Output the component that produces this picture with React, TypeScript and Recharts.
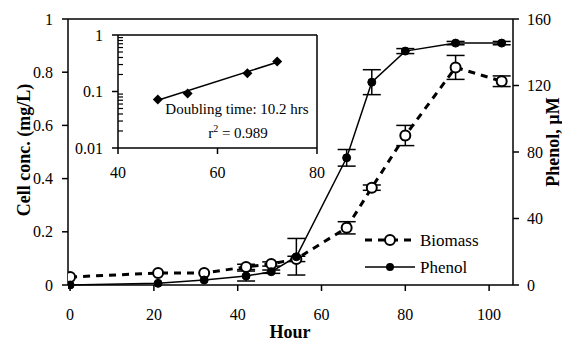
import React from "react";
import {
  ComposedChart,
  LineChart,
  Line,
  XAxis,
  YAxis,
  ErrorBar,
  ReferenceLine,
  Legend,
} from "recharts";

// Main chart data
const hours = [0, 21, 32, 42, 48, 54, 66, 72, 80, 92, 103];
const biomass = [0.03, 0.045, 0.045, 0.068, 0.079, 0.098, 0.215, 0.366, 0.562, 0.818, 0.766];
const biomassErr = [0, 0, 0, 0.01, 0.008, 0.01, 0.023, 0.01, 0.038, 0.045, 0.02];
const phenol = [0, 1, 3, 5.4, 8, 17, 76.5, 122, 140.7, 145.5, 145.5];
const phenolErr = [0, 0, 0, 3, 1, 11, 5, 7.5, 1.5, 1, 1];

const xTicks = [0, 20, 40, 60, 80, 100];
const leftTicks = [0, 0.2, 0.4, 0.6, 0.8, 1];
const rightTicks = [0, 40, 80, 120, 160];

// Inset data
const insetHours = [48, 54, 66, 72];
const insetCell = [0.072, 0.092, 0.21, 0.34];
const insetFit = [0.07, null, null, 0.33];
const insetXTicks = [40, 60, 80];
const insetYTicks = [0.01, 0.1, 1];
const insetMinorTicks = [
  0.02, 0.03, 0.04, 0.05, 0.06, 0.07, 0.08, 0.09,
  0.2, 0.3, 0.4, 0.5, 0.6, 0.7, 0.8, 0.9,
];
const insetAllTicks = [...insetYTicks, ...insetMinorTicks].sort((a, b) => a - b);

const data = hours.map((h, i) => ({
  hour: h,
  biomass: biomass[i],
  biomassErr: biomassErr[i],
  phenol: phenol[i],
  phenolErr: phenolErr[i],
}));

const insetData = insetHours.map((h, i) => ({
  hour: h,
  cell: insetCell[i],
  fit: insetFit[i],
}));

const FONT = "'Liberation Serif', 'Times New Roman', serif";
const tickStyle = { fill: "#000", fontSize: 16, fontFamily: FONT };
const axisLine = { stroke: "#000", strokeWidth: 1.5 };
const tickLine = { stroke: "#000", strokeWidth: 1.5 };

const OpenDot = (props: any) => {
  const { cx, cy, index } = props;
  if (cx == null || cy == null) return <g key={index} />;
  return <circle key={index} cx={cx} cy={cy} r={5} fill="#fff" stroke="#000" strokeWidth={2} />;
};
const FilledDot = (props: any) => {
  const { cx, cy, index } = props;
  if (cx == null || cy == null) return <g key={index} />;
  return <circle key={index} cx={cx} cy={cy} r={4} fill="#000" stroke="#000" strokeWidth={1} />;
};
const Diamond = (props: any) => {
  const { cx, cy, index } = props;
  if (cx == null || cy == null) return <g key={index} />;
  const s = 5;
  return (
    <polygon
      key={index}
      points={`${cx},${cy - s} ${cx + s},${cy} ${cx},${cy + s} ${cx - s},${cy}`}
      fill="#000"
    />
  );
};

const INSET_TICK_SIZE = 6;
const INSET_TICK_MARGIN = 9;
const InsetYTick = (props: any) => {
  const { x, y, payload } = props;
  const v = payload?.value;
  const ax = x + INSET_TICK_SIZE + INSET_TICK_MARGIN;
  const major = insetYTicks.some((t) => Math.abs(t - v) < 1e-9);
  return (
    <g>
      {major ? (
        <line x1={ax - INSET_TICK_SIZE} x2={ax} y1={y} y2={y} stroke="#000" strokeWidth={1.5} />
      ) : (
        <line x1={ax} x2={ax + 5} y1={y} y2={y} stroke="#000" strokeWidth={1.2} />
      )}
      {major && (
        <text
          x={x}
          y={y}
          textAnchor="end"
          dominantBaseline="central"
          fontFamily={FONT}
          fontSize={16}
          fill="#000"
        >
          {String(v)}
        </text>
      )}
    </g>
  );
};

const renderLegend = () => (
  <svg width={140} height={60} style={{ display: "block" }}>
    <line x1={5} y1={14} x2={55} y2={14} stroke="#000" strokeWidth={3} strokeDasharray="7 6" />
    <circle cx={30} cy={14} r={5} fill="#fff" stroke="#000" strokeWidth={2} />
    <text x={60} y={14} dominantBaseline="central" fontFamily={FONT} fontSize={17} fill="#000">
      Biomass
    </text>
    <line x1={5} y1={41} x2={55} y2={41} stroke="#000" strokeWidth={1.5} />
    <circle cx={30} cy={41} r={4} fill="#000" />
    <text x={60} y={41} dominantBaseline="central" fontFamily={FONT} fontSize={17} fill="#000">
      Phenol
    </text>
  </svg>
);

export default function App() {
  return (
    <div style={{ position: "absolute", left: 0, top: 0, width: 562, height: 341, background: "#fff" }}>
      <ComposedChart
        width={562}
        height={341}
        data={data}
        margin={{ top: 19, right: 0, bottom: 16, left: 8 }}
      >
        <XAxis
          dataKey="hour"
          type="number"
          domain={[-0.5, 105.7]}
          ticks={xTicks}
          height={40}
          tickSize={6}
          tickMargin={18}
          tick={tickStyle}
          axisLine={axisLine}
          tickLine={tickLine}
          allowDataOverflow
        />
        <YAxis
          yAxisId="left"
          domain={[0, 1]}
          ticks={leftTicks}
          width={60}
          tickSize={6}
          tickMargin={9}
          tick={tickStyle}
          axisLine={axisLine}
          tickLine={tickLine}
          tickFormatter={(v: number) => String(v)}
        />
        <YAxis
          yAxisId="right"
          orientation="right"
          domain={[0, 160]}
          ticks={rightTicks}
          width={49}
          tickSize={6}
          tickMargin={8}
          tick={tickStyle}
          axisLine={axisLine}
          tickLine={tickLine}
        />
        <ReferenceLine yAxisId="left" y={1} stroke="#000" strokeWidth={1.5} />
        <Line
          yAxisId="left"
          dataKey="biomass"
          stroke="#000"
          strokeWidth={3}
          strokeDasharray="7 6"
          dot={<OpenDot />}
          isAnimationActive={false}
        >
          <ErrorBar dataKey="biomassErr" width={9} stroke="#000" strokeWidth={1.5} direction="y" />
        </Line>
        <Line
          yAxisId="right"
          dataKey="phenol"
          stroke="#000"
          strokeWidth={1.5}
          dot={<FilledDot />}
          isAnimationActive={false}
        >
          <ErrorBar dataKey="phenolErr" width={9} stroke="#000" strokeWidth={1.5} direction="y" />
        </Line>
        <Legend
          layout="vertical"
          verticalAlign="middle"
          align="center"
          wrapperStyle={{ left: 360, top: 226, width: 140, height: 60 }}
          content={renderLegend}
        />
      </ComposedChart>

      <div style={{ position: "absolute", left: 60, top: 20 }}>
        <LineChart
          width={270}
          height={165}
          data={insetData}
          margin={{ top: 15, right: 13, bottom: 7, left: 8 }}
        >
          <XAxis
            dataKey="hour"
            type="number"
            domain={[40, 80]}
            ticks={insetXTicks}
            height={30}
            tickSize={6}
            tickMargin={13}
            tick={tickStyle}
            axisLine={axisLine}
            tickLine={tickLine}
          />
          <YAxis
            yAxisId="major"
            scale="log"
            domain={[0.01, 1]}
            ticks={insetAllTicks}
            interval={0}
            width={50}
            tickSize={INSET_TICK_SIZE}
            tickMargin={INSET_TICK_MARGIN}
            tick={<InsetYTick />}
            axisLine={axisLine}
            tickLine={false}
            allowDataOverflow
          />
          <ReferenceLine yAxisId="major" y={1} stroke="#000" strokeWidth={1.5} />
          <ReferenceLine yAxisId="major" x={80} stroke="#000" strokeWidth={1.5} />
          <Line
            yAxisId="major"
            dataKey="fit"
            stroke="#000"
            strokeWidth={1.5}
            dot={false}
            connectNulls
            isAnimationActive={false}
          />
          <Line
            yAxisId="major"
            dataKey="cell"
            stroke="none"
            dot={<Diamond />}
            isAnimationActive={false}
          />
        </LineChart>
      </div>

      <svg
        width={562}
        height={341}
        style={{ position: "absolute", left: 0, top: 0, pointerEvents: "none" }}
      >
        <text
          x={24}
          y={150}
          transform="rotate(-90 24 150)"
          textAnchor="middle"
          dominantBaseline="central"
          fontFamily={FONT}
          fontWeight="bold"
          fontSize={18}
          fill="#000"
        >
          Cell conc. (mg/L)
        </text>
        <text
          x={553}
          y={142}
          transform="rotate(-90 553 142)"
          textAnchor="middle"
          dominantBaseline="central"
          fontFamily={FONT}
          fontWeight="bold"
          fontSize={18}
          fill="#000"
        >
          Phenol, µM
        </text>
        <text
          x={290}
          y={332}
          textAnchor="middle"
          dominantBaseline="central"
          fontFamily={FONT}
          fontWeight="bold"
          fontSize={18}
          fill="#000"
        >
          Hour
        </text>
        <text x={237} y={114} textAnchor="middle" fontFamily={FONT} fontSize={15} fill="#000">
          Doubling time: 10.2 hrs
        </text>
        <text x={238} y={138} textAnchor="middle" fontFamily={FONT} fontSize={15} fill="#000">
          r
          <tspan dy={-6} fontSize={10}>2</tspan>
          <tspan dy={6}> = 0.989</tspan>
        </text>
      </svg>
    </div>
  );
}
